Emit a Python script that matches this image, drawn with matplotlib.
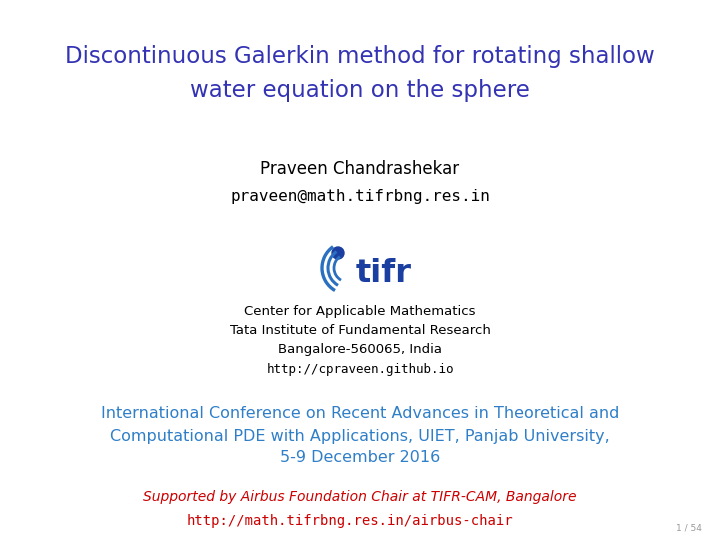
import matplotlib
matplotlib.use("Agg")
import matplotlib.pyplot as plt
from matplotlib.patches import Arc, Circle

W, H = 720, 541
BLUE = "#3333b3"
CONF = "#2f7fc8"
RED = "#cc0000"

title_lines = ["Discontinuous Galerkin method for rotating shallow",
               "water equation on the sphere"]
author = "Praveen Chandrashekar"
email = "praveen@math.tifrbng.res.in"
inst_lines = ["Center for Applicable Mathematics",
              "Tata Institute of Fundamental Research",
              "Bangalore-560065, India"]
url = "http://cpraveen.github.io"
conf_lines = ["International Conference on Recent Advances in Theoretical and",
              "Computational PDE with Applications, UIET, Panjab University,",
              "5-9 December 2016"]
support = "Supported by Airbus Foundation Chair at TIFR-CAM, Bangalore"
support_url = "http://math.tifrbng.res.in/airbus-chair"
page = "1 / 54"

fig = plt.figure(figsize=(7.2, 5.41), dpi=100)
ax = fig.add_axes([0, 0, 1, 1])
ax.set_xlim(0, W); ax.set_ylim(H, 0); ax.axis("off")

def t(x, y, s, **kw):
    ax.text(x, y, s, ha=kw.pop("ha", "center"), va="center", **kw)

t(360, 56, title_lines[0], fontsize=16.5, color=BLUE)
t(360, 91, title_lines[1], fontsize=16.5, color=BLUE)
t(360, 169, author, fontsize=12, color="black")
t(360, 196, email, fontsize=11.5, color="black", family="DejaVu Sans Mono")

# logo
ax.add_patch(Circle((338, 253), 6, color="#1a3fa0"))
for r, w in [(26, 2.4), (20, 2.2), (14, 2.0)]:
    ax.add_patch(Arc((348, 268), 2 * r, 2 * r, theta1=120, theta2=235, color="#2a6fc0", lw=w))
t(384, 274, "tifr", fontsize=23, color="#1a3fa0", weight="bold")

for i, s in enumerate(inst_lines):
    t(360, 311 + 19.5 * i, s, fontsize=9.5, color="black")
t(360, 369, url, fontsize=9, color="black", family="DejaVu Sans Mono")

for i, s in enumerate(conf_lines):
    t(360, 414 + 22 * i, s, fontsize=11.5, color=CONF)

t(360, 497, support, fontsize=10, color=RED, style="italic")
t(350, 521, support_url, fontsize=10, color=RED, family="DejaVu Sans Mono")
t(702, 528, page, fontsize=6.5, color="#999999", ha="right")

fig.savefig("out.png", dpi=100, facecolor="white")
